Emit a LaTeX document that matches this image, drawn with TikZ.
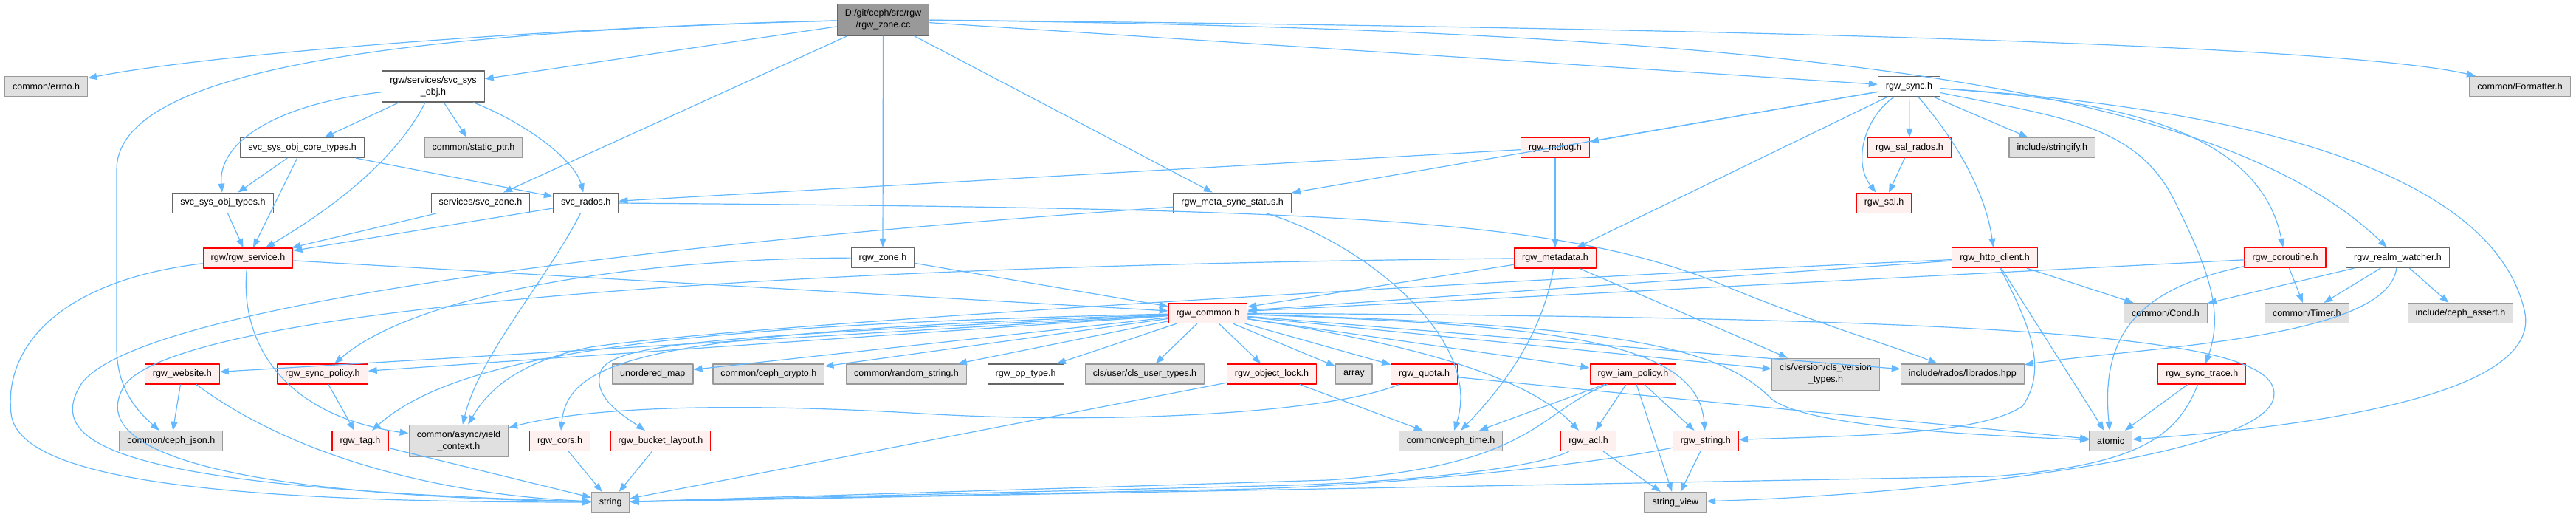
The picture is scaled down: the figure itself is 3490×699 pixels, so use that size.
\documentclass[tikz,border=0pt]{standalone}
\usepackage{fontspec}
\setmainfont{Liberation Sans}
\usetikzlibrary{arrows.meta}
\definecolor{edgeblue}{HTML}{63B8FF}
\definecolor{redfill}{HTML}{FFF0F0}
\definecolor{greyfill}{HTML}{E0E0E0}
\definecolor{greyline}{HTML}{999999}
\definecolor{darkline}{HTML}{666666}
\tikzset{
  fnode/.style={draw, line width=1.2pt, inner xsep=10.5pt, inner ysep=0pt, minimum height=27pt, align=center, font=\fontsize{12.5}{16}\selectfont},
  wnode/.style={fnode, fill=white, draw=darkline},
  rnode/.style={fnode, fill=redfill, draw=red},
  gnode/.style={fnode, fill=greyfill, draw=greyline},
  rootnode/.style={fnode, fill=greyline, draw=darkline, minimum height=43pt},
  dep/.style={->, draw=edgeblue, line width=1.2pt}
}
\begin{document}
\begin{tikzpicture}[x=1pt, y=-1pt, line join=round, >={Triangle[length=12pt,width=9pt]}]
\useasboundingbox (0,0) rectangle (3490,699);
\node[rootnode] (root) at (1196.5,26.6) {D:/git/ceph/src/rgw\\/rgw\_zone.cc};
\node[gnode] (errno) at (62.6,117) {common/errno.h};
\node[wnode, minimum height=42pt] (svcsysobj) at (587,117) {rgw/services/svc\_sys\\\_obj.h};
\node[wnode] (rgwsync) at (2586.5,117) {rgw\_sync.h};
\node[gnode] (formatter) at (3414,117) {common/Formatter.h};
\node[wnode] (coretypes) at (409.6,200) {svc\_sys\_obj\_core\_types.h};
\node[gnode] (staticptr) at (641.5,200) {common/static\_ptr.h};
\node[rnode] (mdlog) at (2107,200) {rgw\_mdlog.h};
\node[rnode] (salrados) at (2587,200) {rgw\_sal\_rados.h};
\node[gnode] (stringify) at (2780.3,200) {include/stringify.h};
\node[wnode] (sysobjtypes) at (302,274.7) {svc\_sys\_obj\_types.h};
\node[wnode] (svczone) at (651,274.7) {services/svc\_zone.h};
\node[wnode] (svcrados) at (793.7,274.7) {svc\_rados.h};
\node[wnode] (metasync) at (1669.6,274.7) {rgw\_meta\_sync\_status.h};
\node[rnode] (sal) at (2552.5,274.7) {rgw\_sal.h};
\node[rnode] (service) at (336,349.4) {rgw/rgw\_service.h};
\node[wnode] (zoneh) at (1196,349) {rgw\_zone.h};
\node[rnode] (metadata) at (2107,349.4) {rgw\_metadata.h};
\node[rnode] (httpclient) at (2702.5,349) {rgw\_http\_client.h};
\node[rnode] (coroutine) at (3096,349) {rgw\_coroutine.h};
\node[wnode] (realmwatcher) at (3248.5,349) {rgw\_realm\_watcher.h};
\node[rnode] (common) at (1636.5,424) {rgw\_common.h};
\node[gnode] (cond) at (2933.9,424) {common/Cond.h};
\node[gnode] (timer) at (3125.3,424) {common/Timer.h};
\node[gnode] (cephassert) at (3333.4,424) {include/ceph\_assert.h};
\node[rnode] (website) at (246.8,506.4) {rgw\_website.h};
\node[rnode] (syncpolicy) at (437,506.4) {rgw\_sync\_policy.h};
\node[gnode] (unorderedmap) at (884.3,506.4) {unordered\_map};
\node[gnode] (cephcrypto) at (1041.4,506.4) {common/ceph\_crypto.h};
\node[gnode] (randomstring) at (1228,506.4) {common/random\_string.h};
\node[wnode] (optype) at (1389.6,506.4) {rgw\_op\_type.h};
\node[gnode] (clsuser) at (1551,506.4) {cls/user/cls\_user\_types.h};
\node[rnode] (objectlock) at (1723,506.4) {rgw\_object\_lock.h};
\node[gnode] (array) at (1834.3,506.4) {array};
\node[rnode] (quota) at (1929.6,506.4) {rgw\_quota.h};
\node[rnode] (iampolicy) at (2212.4,506.4) {rgw\_iam\_policy.h};
\node[gnode, minimum height=43pt] (clsversion) at (2473.5,506.7) {cls/version/cls\_version\\\_types.h};
\node[gnode] (librados) at (2658.8,506.4) {include/rados/librados.hpp};
\node[rnode] (synctrace) at (2983.2,506.4) {rgw\_sync\_trace.h};
\node[gnode] (cephjson) at (231.9,597) {common/ceph\_json.h};
\node[rnode] (tag) at (488,597) {rgw\_tag.h};
\node[gnode, minimum height=43pt] (yield) at (621.4,596.8) {common/async/yield\\\_context.h};
\node[rnode] (cors) at (758.6,597) {rgw\_cors.h};
\node[rnode] (bucketlayout) at (895,597) {rgw\_bucket\_layout.h};
\node[gnode] (cephtime) at (1965.5,597) {common/ceph\_time.h};
\node[rnode] (acl) at (2152,597) {rgw\_acl.h};
\node[rnode] (rgwstring) at (2310.8,597) {rgw\_string.h};
\node[gnode] (atomic) at (2859.6,597) {atomic};
\node[gnode] (string) at (827.2,680) {string};
\node[gnode] (stringview) at (2269.8,680) {string\_view};
\draw[dep] (root) .. controls (800,35) and (300,70) .. (errno);
\draw[dep] (root) .. controls (450,45) and (158,110) .. (158,230) -- (158,470) .. controls (158,530) and (190,560) .. (cephjson);
\draw[dep] (root) -- (svcsysobj);
\draw[dep] (root) -- (svczone);
\draw[dep] (root) -- (zoneh);
\draw[dep] (root) -- (metasync);
\draw[dep] (root) -- (rgwsync);
\draw[dep] (root) .. controls (2100,35) and (3150,55) .. (formatter);
\draw[dep] (root) .. controls (2400,40) and (3000,110) .. (realmwatcher);
\draw[dep] (rgwsync) -- (mdlog);
\draw[dep] (rgwsync) -- (metasync);
\draw[dep] (rgwsync) -- (metadata);
\draw[dep] (rgwsync) .. controls (2525,160) and (2510,220) .. (sal);
\draw[dep] (rgwsync) -- (salrados);
\draw[dep] (rgwsync) -- (stringify);
\draw[dep] (rgwsync) .. controls (2650,190) and (2690,260) .. (httpclient);
\draw[dep] (rgwsync) .. controls (2800,160) and (2900,170) .. (2950,280) .. controls (3000,380) and (3010,430) .. (synctrace);
\draw[dep] (rgwsync) .. controls (2850,135) and (3060,170) .. (coroutine);
\draw[dep] (rgwsync) .. controls (3100,150) and (3380,250) .. (3420,420) .. controls (3450,540) and (3100,580) .. (atomic);
\draw[dep] (metasync) .. controls (800,335) and (180,420) .. (110,520) .. controls (60,600) and (150,660) .. (string);
\draw[dep] (metasync) .. controls (1850,330) and (2010,460) .. (cephtime);
\draw[dep] (svcsysobj) -- (coretypes);
\draw[dep] (svcsysobj) -- (staticptr);
\draw[dep] (svcsysobj) .. controls (380,140) and (295,190) .. (sysobjtypes);
\draw[dep] (svcsysobj) .. controls (530,230) and (420,300) .. (service);
\draw[dep] (svcsysobj) .. controls (720,170) and (780,220) .. (svcrados);
\draw[dep] (coretypes) -- (sysobjtypes);
\draw[dep] (coretypes) -- (service);
\draw[dep] (coretypes) -- (svcrados);
\draw[dep] (sysobjtypes) -- (service);
\draw[dep] (svczone) -- (service);
\draw[dep] (svcrados) -- (service);
\draw[dep] (svcrados) .. controls (740,380) and (650,480) .. (yield);
\draw[dep] (svcrados) .. controls (1800,282) and (2100,295) .. (2320,380) .. controls (2450,435) and (2570,470) .. (librados);
\draw[dep] (mdlog) -- (svcrados);
\draw[dep] (mdlog) -- (metadata);
\draw[dep] (service) .. controls (80,380) and (5,470) .. (15,560) .. controls (25,650) and (300,680) .. (string);
\draw[dep] (service) -- (common);
\draw[dep] (service) .. controls (325,450) and (370,560) .. (yield);
\draw[dep] (zoneh) -- (common);
\draw[dep] (zoneh) .. controls (850,350) and (560,400) .. (syncpolicy);
\draw[dep] (metadata) -- (common);
\draw[dep] (metadata) .. controls (1000,360) and (250,420) .. (170,520) .. controls (110,610) and (300,670) .. (string);
\draw[dep] (metadata) .. controls (2090,450) and (2040,520) .. (cephtime);
\draw[dep] (metadata) -- (clsversion);
\draw[dep] (httpclient) -- (common);
\draw[dep] (httpclient) .. controls (2000,380) and (1000,440) .. (800,470) .. controls (700,490) and (660,530) .. (yield);
\draw[dep] (httpclient) -- (cond);
\draw[dep] (httpclient) -- (atomic);
\draw[dep] (httpclient) .. controls (2750,440) and (2775,500) .. (2740,550) .. controls (2680,590) and (2500,590) .. (rgwstring);
\draw[dep] (coroutine) -- (common);
\draw[dep] (coroutine) -- (timer);
\draw[dep] (coroutine) .. controls (2900,390) and (2845,450) .. (atomic);
\draw[dep] (realmwatcher) -- (cond);
\draw[dep] (realmwatcher) -- (timer);
\draw[dep] (realmwatcher) -- (cephassert);
\draw[dep] (realmwatcher) .. controls (3235,460) and (2900,470) .. (librados);
\draw[dep] (common) -- (website);
\draw[dep] (common) -- (syncpolicy);
\draw[dep] (common) .. controls (900,440) and (620,480) .. (tag);
\draw[dep] (common) .. controls (900,450) and (770,480) .. (cors);
\draw[dep] (common) .. controls (1000,455) and (840,462) .. (815,500) .. controls (800,535) and (840,560) .. (bucketlayout);
\draw[dep] (common) -- (unorderedmap);
\draw[dep] (common) -- (cephcrypto);
\draw[dep] (common) -- (randomstring);
\draw[dep] (common) -- (optype);
\draw[dep] (common) -- (clsuser);
\draw[dep] (common) -- (objectlock);
\draw[dep] (common) -- (array);
\draw[dep] (common) -- (quota);
\draw[dep] (common) -- (iampolicy);
\draw[dep] (common) -- (clsversion);
\draw[dep] (common) -- (librados);
\draw[dep] (common) .. controls (1950,470) and (2080,520) .. (acl);
\draw[dep] (common) .. controls (2100,440) and (2300,460) .. (rgwstring);
\draw[dep] (common) .. controls (2200,440) and (2330,470) .. (2400,540) .. controls (2450,580) and (2700,590) .. (atomic);
\draw[dep] (common) .. controls (2800,430) and (3100,460) .. (3080,540) .. controls (3060,620) and (2600,670) .. (stringview);
\draw[dep] (website) -- (cephjson);
\draw[dep] (website) .. controls (400,620) and (600,670) .. (string);
\draw[dep] (syncpolicy) -- (tag);
\draw[dep] (tag) -- (string);
\draw[dep] (cors) -- (string);
\draw[dep] (bucketlayout) -- (string);
\draw[dep] (objectlock) -- (string);
\draw[dep] (objectlock) -- (cephtime);
\draw[dep] (quota) .. controls (1800,560) and (1500,575) .. (1250,560) .. controls (1000,545) and (800,550) .. (yield);
\draw[dep] (quota) -- (atomic);
\draw[dep] (iampolicy) -- (cephtime);
\draw[dep] (iampolicy) .. controls (2080,560) and (2080,630) .. (1800,650) -- (string);
\draw[dep] (iampolicy) -- (acl);
\draw[dep] (iampolicy) -- (stringview);
\draw[dep] (iampolicy) -- (rgwstring);
\draw[dep] (acl) .. controls (2090,630) and (1950,650) .. (1750,657) -- (string);
\draw[dep] (acl) -- (stringview);
\draw[dep] (rgwstring) .. controls (2150,630) and (1900,655) .. (1700,662) -- (string);
\draw[dep] (rgwstring) -- (stringview);
\draw[dep] (synctrace) -- (atomic);
\draw[dep] (synctrace) .. controls (2950,590) and (2900,630) .. (2700,645) -- (string);
\draw[dep] (salrados) -- (sal);
\end{tikzpicture}
\end{document}
